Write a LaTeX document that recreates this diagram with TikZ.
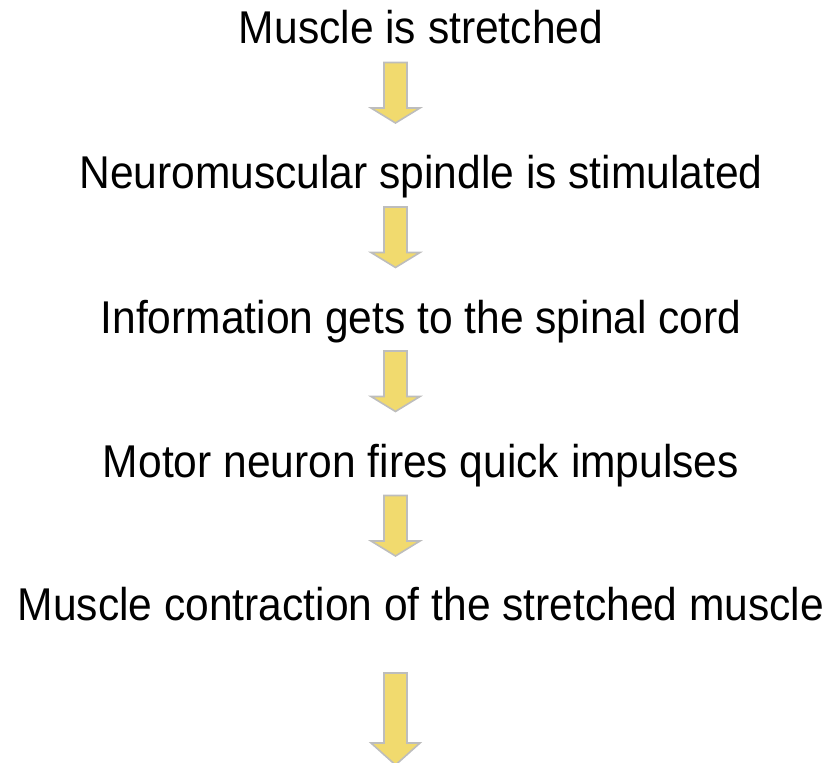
\documentclass[tikz,border=0pt]{standalone}
\usepackage{fontspec}
\usepackage{graphicx}
\setmainfont{Liberation Sans}
\definecolor{arrowfill}{HTML}{F1DA6E}
\definecolor{arrowedge}{HTML}{BDBDBD}
\newcommand{\tallish}[1]{\scalebox{1}[1.08]{#1}}
\begin{document}
\begin{tikzpicture}[x=1bp,y=-1bp,
  steptext/.style={anchor=base, font=\fontsize{42.7}{50}\selectfont, inner sep=0pt},
  blockarrow/.style={fill=arrowfill, draw=arrowedge, line width=1.6bp, line join=miter},
  pics/downarrow/.style n args={2}{code={
    \draw[blockarrow] (-11.5,0) -- (-11.5,#1) -- (-24.5,#1) -- (0,{#1+#2})
      -- (24.5,#1) -- (11.5,#1) -- (11.5,0) -- cycle;}}]
\useasboundingbox (0,0) rectangle (831,763);
\node[steptext] (t1) at (421,44) {\tallish{Muscle is stretched}};
\node[steptext] (t2) at (421,188.5) {\tallish{Neuromuscular spindle is stimulated}};
\node[steptext] (t3) at (421,333) {\tallish{Information gets to the spinal cord}};
\node[steptext] (t4) at (421,477) {\tallish{Motor neuron fires quick impulses}};
\node[steptext] (t5) at (421,620.5) {\tallish{Muscle contraction of the stretched muscle}};
\pic (a1) at (395.5,62.5) {downarrow={45.5}{15}};
\pic (a2) at (395.5,207) {downarrow={45.5}{15}};
\pic (a3) at (395.5,351) {downarrow={45.5}{15}};
\pic (a4) at (395.5,495.5) {downarrow={45.5}{15}};
\pic (a5) at (395.5,673) {downarrow={70}{22}};
\end{tikzpicture}
\end{document}
